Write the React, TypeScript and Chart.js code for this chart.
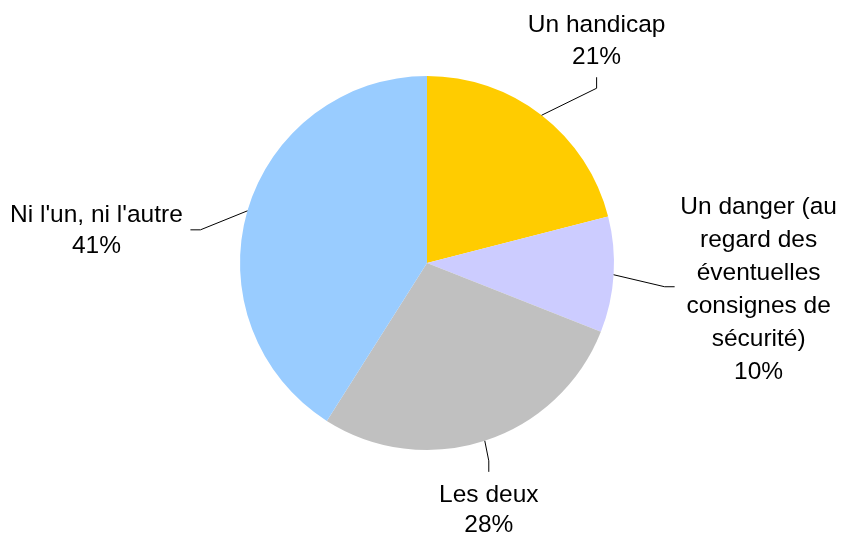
import React, { useEffect, useRef } from "react";
import { Chart, registerables } from "chart.js";

Chart.register(...registerables);

const categories: string[][] = [
  ["Un handicap"],
  ["Un danger (au", "regard des", "éventuelles", "consignes de", "sécurité)"],
  ["Les deux"],
  ["Ni l'un, ni l'autre"],
];
const values: number[] = [21, 10, 28, 41];
const colors: string[] = ["#FFCC00", "#CCCCFF", "#C0C0C0", "#99CCFF"];

// leader line / label placement relative to the arc edge point at mid-angle
const labelLayout = [
  { elbow: [55, -27], end: [0, -11], text: [0, -56], lh: 32 },
  { elbow: [51, 12], end: [10, 0], text: [94, -73], lh: 33 },
  { elbow: [4, 20], end: [0, 11], text: [0, 41], lh: 30 },
  { elbow: [-47, 19], end: [-10, 0], text: [-104, -8], lh: 31 },
];

const labelPlugin = {
  id: "pieLabels",
  afterDraw(chart: any) {
    const ctx = chart.ctx;
    const meta = chart.getDatasetMeta(0);
    const total = values.reduce((a, b) => a + b, 0);
    ctx.save();
    ctx.strokeStyle = "#000";
    ctx.lineWidth = 1;
    ctx.fillStyle = "#000";
    ctx.font = "24.5px 'Liberation Sans', Arial, sans-serif";
    ctx.textAlign = "center";
    ctx.textBaseline = "alphabetic";
    meta.data.forEach((arc: any, i: number) => {
      const p = arc.getProps(["x", "y", "startAngle", "endAngle", "outerRadius"], true);
      const mid = (p.startAngle + p.endAngle) / 2;
      const ex = p.x + Math.cos(mid) * p.outerRadius;
      const ey = p.y + Math.sin(mid) * p.outerRadius;
      const L = labelLayout[i];
      const bx = ex + L.elbow[0];
      const by = ey + L.elbow[1];
      ctx.beginPath();
      ctx.moveTo(ex, ey);
      ctx.lineTo(bx, by);
      ctx.lineTo(bx + L.end[0], by + L.end[1]);
      ctx.stroke();
      const lines = [...categories[i], Math.round((values[i] / total) * 100) + "%"];
      const tx = bx + L.text[0];
      const ty = by + L.text[1];
      lines.forEach((t, k) => ctx.fillText(t, tx, ty + k * L.lh));
    });
    ctx.restore();
  },
};

export default function App() {
  const ref = useRef<HTMLCanvasElement>(null);
  useEffect(() => {
    if (!ref.current) return;
    const chart = new Chart(ref.current, {
      type: "pie",
      data: {
        labels: categories.map((c) => c.join(" ")),
        datasets: [
          {
            data: values,
            backgroundColor: colors,
            borderWidth: 0,
          },
        ],
      },
      options: {
        animation: false,
        responsive: false,
        layout: { padding: { left: 240, right: 232, top: 76, bottom: 87 } },
        plugins: {
          legend: { display: false },
          tooltip: { enabled: false },
        },
      },
      plugins: [labelPlugin],
    });
    return () => chart.destroy();
  }, []);
  return (
    <div style={{ position: "fixed", left: 0, top: 0, width: 846, height: 537, background: "#fff" }}>
      <canvas ref={ref} width={846} height={537} />
    </div>
  );
}
